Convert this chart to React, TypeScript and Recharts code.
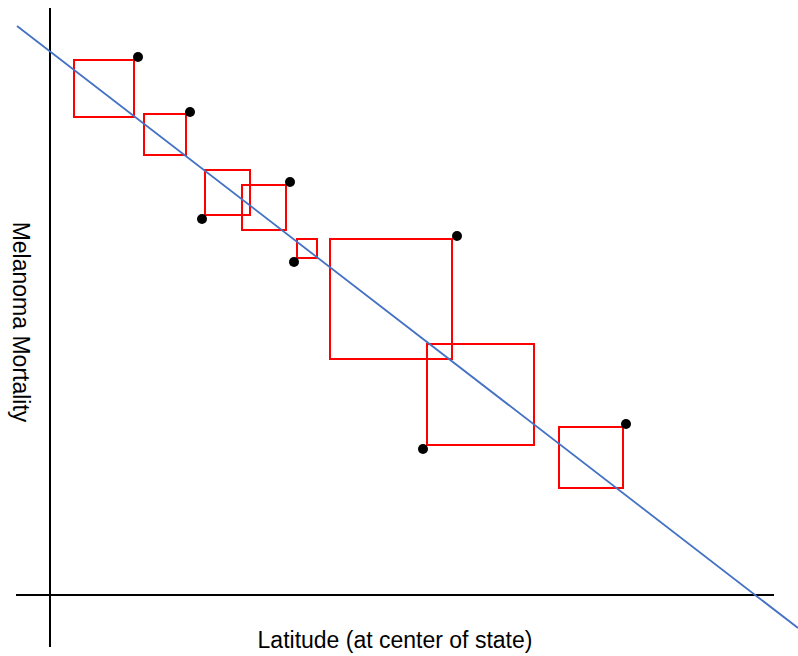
// Least-squares illustration: data points, squared residuals and fitted line.
// Units are arbitrary (the original has no tick labels).

import {
  ComposedChart,
  Scatter,
  XAxis,
  YAxis,
  ReferenceLine,
  ReferenceArea,
  Label,
} from "recharts";

// observed points
const pointX = [88, 140, 152, 240, 244, 407, 373, 576];
const pointY = [538, 483, 376, 413, 333, 359, 146, 171];

// residual squares, one per point
const squareX1 = [24, 94, 155, 192, 247, 280, 377, 509];
const squareX2 = [84, 136, 200, 236, 267, 402, 484, 573];
const squareY1 = [478, 440, 380, 365, 337, 236, 150, 107];
const squareY2 = [535, 481, 425, 410, 356, 356, 251, 168];

// fitted line end points
const fitX = [-33, 748];
const fitY = [569, -33];

// axis extents
const xAxisSpan = [-34, 724];
const yAxisSpan = [-52, 587];

const points = pointX.map((x, i) => ({ x, y: pointY[i] }));

const font = "'Liberation Sans', Arial, sans-serif";

function Dot(props: { cx?: number; cy?: number }) {
  if (props.cx == null || props.cy == null) return null;
  return <circle cx={props.cx} cy={props.cy} r={5} fill="#000" />;
}

export default function App() {
  return (
    <div style={{ position: "absolute", left: 0, top: 0, background: "#fff" }}>
      <ComposedChart
        width={798}
        height={656}
        data={points}
        margin={{ top: 0, right: 0, bottom: 0, left: 0 }}
      >
        <XAxis type="number" dataKey="x" domain={[-50, 748]} hide />
        <YAxis type="number" dataKey="y" domain={[-61, 595]} hide />

        <ReferenceLine
          segment={[
            { x: xAxisSpan[0], y: 0 },
            { x: xAxisSpan[1], y: 0 },
          ]}
          stroke="#000"
          strokeWidth={2}
        >
          <Label
            content={(p: any) => {
              const vb = p.viewBox || {};
              return (
                <text
                  x={vb.x + (vb.width || 0) / 2}
                  y={648}
                  textAnchor="middle"
                  fontFamily={font}
                  fontSize={23}
                  fill="#000"
                >
                  Latitude (at center of state)
                </text>
              );
            }}
          />
        </ReferenceLine>
        <ReferenceLine
          segment={[
            { x: 0, y: yAxisSpan[0] },
            { x: 0, y: yAxisSpan[1] },
          ]}
          stroke="#000"
          strokeWidth={2}
        >
          <Label
            content={() => (
              <text
                x={13}
                y={322}
                textAnchor="middle"
                fontFamily={font}
                fontSize={23}
                fill="#000"
                transform="rotate(90, 13, 322)"
              >
                Melanoma Mortality
              </text>
            )}
          />
        </ReferenceLine>

        {squareX1.map((x1, i) => (
          <ReferenceArea
            key={i}
            x1={x1}
            x2={squareX2[i]}
            y1={squareY1[i]}
            y2={squareY2[i]}
            fill="none"
            stroke="#FF0000"
            strokeWidth={2}
          />
        ))}

        <ReferenceLine
          segment={[
            { x: fitX[0], y: fitY[0] },
            { x: fitX[1], y: fitY[1] },
          ]}
          stroke="#4472C4"
          strokeWidth={1.8}
        />

        <Scatter
          data={points}
          dataKey="y"
          shape={<Dot />}
          isAnimationActive={false}
        />
      </ComposedChart>
    </div>
  );
}
